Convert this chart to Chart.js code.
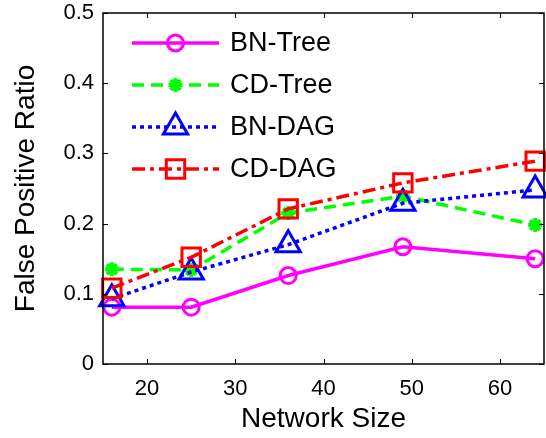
<!DOCTYPE html>
<html>
<head>
<meta charset="utf-8">
<script src="https://cdn.jsdelivr.net/npm/chart.js@4.4.0/dist/chart.umd.min.js"></script>
<style>
    html, body { margin: 0; padding: 0; background: #fff; }
    #wrap { width: 546px; height: 438px; }
</style>
</head>
<body>
<div id="wrap"><canvas id="fpChart" width="546" height="438"></canvas></div>
<script>
const networkSizes = [16, 25, 36, 49, 64]
const bnTree = [0.081, 0.081, 0.126, 0.167, 0.150]
const cdTree = [0.135, 0.134, 0.215, 0.239, 0.198]
const bnDag  = [0.093, 0.131, 0.170, 0.229, 0.248]
const cdDag  = [0.108, 0.152, 0.221, 0.258, 0.289]
const xTicks = [20, 30, 40, 50, 60]
const yTicks = [0, 0.1, 0.2, 0.3, 0.4, 0.5]

const FONT = "'Liberation Sans', Arial, sans-serif"

const toPoints = ys => ys.map((y, i) => ({ x: networkSizes[i], y }))

function series(label, ys, color, dash, style, radius, order) {
    return {
        label,
        data: toPoints(ys),
        borderColor: color,
        backgroundColor: 'transparent',
        borderWidth: 3.5,
        borderDash: dash,
        pointStyle: style,
        pointRadius: radius,
        pointBorderColor: color,
        pointBackgroundColor: 'transparent',
        pointBorderWidth: style == 'star' ? 4 : 3,
        tension: 0,
        clip: false,
        order
    }
}

// box round the plot with inward ticks on all four sides
const frameTicks = {
    id: 'frameTicks',
    afterDatasetsDraw(chart) {
        const { ctx, chartArea: a, scales: { x, y } } = chart
        ctx.save()
        ctx.strokeStyle = '#000'
        ctx.lineWidth = 1.5
        ctx.setLineDash([])
        ctx.strokeRect(a.left, a.top, a.right - a.left, a.bottom - a.top)
        ctx.lineWidth = 1
        ctx.beginPath()
        xTicks.forEach(v => {
            const px = Math.round(x.getPixelForValue(v)) + 0.5
            ctx.moveTo(px, a.bottom); ctx.lineTo(px, a.bottom - 5)
            ctx.moveTo(px, a.top);    ctx.lineTo(px, a.top + 5)
        })
        yTicks.forEach(v => {
            const py = Math.round(y.getPixelForValue(v)) + 0.5
            ctx.moveTo(a.left, py);  ctx.lineTo(a.left + 5, py)
            ctx.moveTo(a.right, py); ctx.lineTo(a.right - 5, py)
        })
        ctx.stroke()
        ctx.restore()
    }
}

// matlab style legend: line with the marker in its middle
const lineLegend = {
    id: 'lineLegend',
    afterDraw(chart) {
        const { ctx } = chart
        const x0 = 132, x1 = 219, xt = 230
        ctx.save()
        chart.data.datasets.forEach((ds, i) => {
            const yy = 43 + i * 42
            ctx.strokeStyle = ds.borderColor
            ctx.lineWidth = ds.borderWidth
            ctx.setLineDash(ds.borderDash || [])
            ctx.beginPath()
            ctx.moveTo(x0, yy); ctx.lineTo(x1, yy)
            ctx.stroke()
            ctx.setLineDash([])
            ctx.fillStyle = 'transparent'
            ctx.lineWidth = ds.pointBorderWidth
            Chart.helpers.drawPoint(ctx, {
                pointStyle: ds.pointStyle,
                radius: ds.pointRadius,
                borderWidth: ds.pointBorderWidth,
                rotation: 0
            }, (x0 + x1) / 2, yy)
            ctx.fillStyle = '#000'
            ctx.font = `27px ${FONT}`
            ctx.textBaseline = 'middle'
            ctx.textAlign = 'left'
            ctx.fillText(ds.label, xt, yy + 1)
        })
        ctx.restore()
    }
}

new Chart(document.getElementById('fpChart'), {
    type: 'line',
    data: {
        datasets: [
            series('BN-Tree', bnTree, '#ff00ff', [], 'circle', 8, 4),
            series('CD-Tree', cdTree, '#00ff00', [12, 7], 'star', 7, 3),
            series('BN-DAG', bnDag, '#0000ff', [4, 4], 'triangle', 14, 2),
            series('CD-DAG', cdDag, '#ff0000', [13, 5, 4, 5], 'rect', 13, 1)
        ]
    },
    options: {
        responsive: false,
        animation: false,
        devicePixelRatio: 1,
        layout: { autoPadding: false, padding: { left: 0, top: 13, right: 2, bottom: 0 } },
        plugins: { legend: { display: false }, tooltip: { enabled: false } },
        scales: {
            x: {
                type: 'linear',
                min: 15,
                max: 65,
                afterBuildTicks: s => { s.ticks = xTicks.map(v => ({ value: v })) },
                afterFit: s => { s.height = 74; s.paddingLeft = 0; s.paddingRight = 0 },
                grid: { display: false, drawTicks: false },
                border: { display: false },
                ticks: { color: '#000', padding: 12, font: { family: FONT, size: 22 } },
                title: {
                    display: true, text: 'Network Size', color: '#000',
                    font: { family: FONT, size: 28, lineHeight: 1 },
                    padding: { top: 0, bottom: 5 }
                }
            },
            y: {
                min: 0,
                max: 0.5,
                afterBuildTicks: s => { s.ticks = yTicks.map(v => ({ value: v })) },
                afterFit: s => { s.width = 103; s.paddingTop = 0; s.paddingBottom = 0 },
                grid: { display: false, drawTicks: false },
                border: { display: false },
                ticks: {
                    color: '#000', padding: 9, font: { family: FONT, size: 22 },
                    callback: v => String(v)
                },
                title: {
                    display: true, text: 'False Positive Ratio', color: '#000',
                    font: { family: FONT, size: 28, lineHeight: 1 },
                    padding: { top: 12, bottom: 0 }
                }
            }
        }
    },
    plugins: [frameTicks, lineLegend]
})
</script>
</body>
</html>
